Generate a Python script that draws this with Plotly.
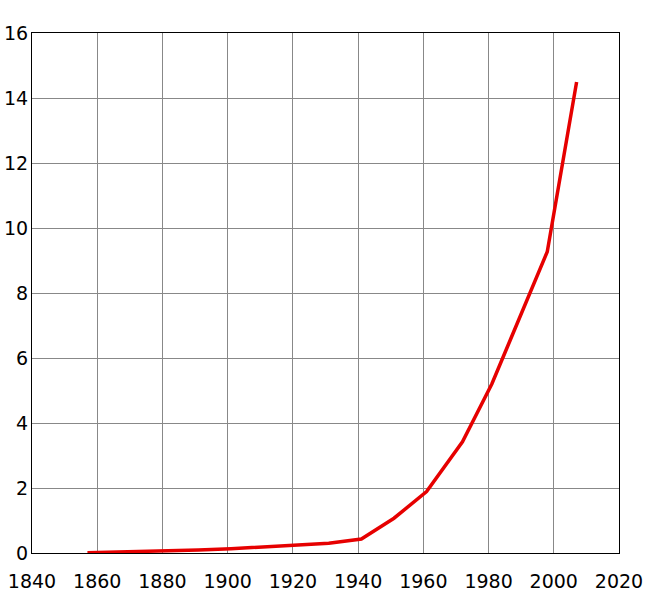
import plotly.graph_objects as go

# census years and population (millions)
years = [1857, 1872, 1881, 1891, 1901, 1911, 1921, 1931, 1941, 1951, 1961, 1972, 1981, 1998, 2007]
population = [0.01, 0.04, 0.06, 0.09, 0.13, 0.18, 0.24, 0.3, 0.43, 1.07, 1.89, 3.42, 5.2, 9.27, 14.49]

x_ticks = list(range(1840, 2021, 20))
y_ticks = list(range(0, 17, 2))

fig = go.Figure()
fig.add_trace(go.Scatter(x=years, y=population, mode='lines',
                         line=dict(color='#e60000', width=3.5)))

axis_style = dict(showgrid=True, gridcolor='#888888', gridwidth=1,
                  showline=True, linecolor='black', linewidth=1.2, mirror=True,
                  zeroline=False, ticks='', automargin=False,
                  tickfont=dict(family='DejaVu Sans', size=19, color='black'))

fig.update_xaxes(range=[1840, 2020], tickvals=x_ticks, ticklabelstandoff=11, **axis_style)
fig.update_yaxes(range=[0, 16], tickvals=y_ticks, ticklabelstandoff=-1, **axis_style)

fig.update_layout(width=645, height=599, showlegend=False,
                  plot_bgcolor='white', paper_bgcolor='white',
                  margin=dict(l=32, r=26, t=33, b=46))

# drop the default page margin so the figure fills the window
fig.write_html("out.html", config={'displayModeBar': False},
               post_script="document.body.style.margin='0';")
